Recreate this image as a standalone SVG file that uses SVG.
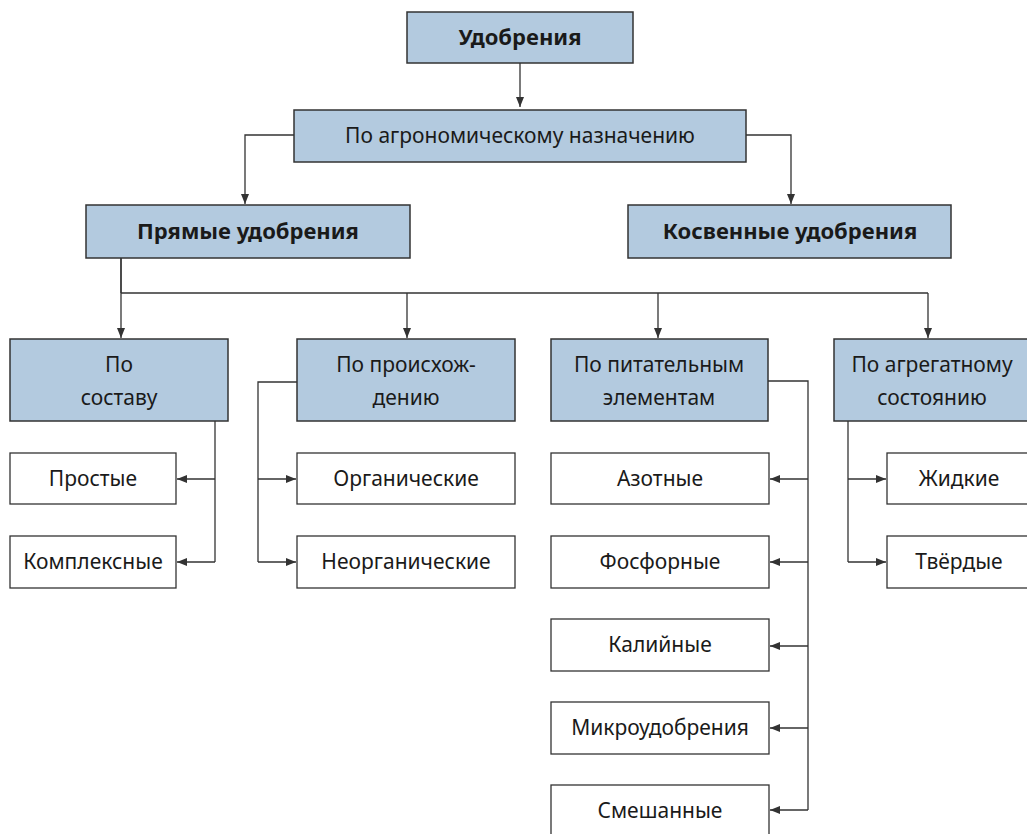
<svg xmlns="http://www.w3.org/2000/svg" width="1027" height="834" viewBox="0 0 1027 834">
<defs>
<marker id="ah" viewBox="0 0 10 8" refX="10" refY="4" markerWidth="10" markerHeight="8" markerUnits="userSpaceOnUse" orient="auto">
<path d="M0,0 L10,4 L0,8 z" fill="#333"/>
</marker>
</defs>
<style>
.h{fill:#b3cadf;stroke:#333;stroke-width:1.5}
.w{fill:#fff;stroke:#333;stroke-width:1.3}
.t{font-family:"Noto Sans","Liberation Sans",sans-serif;font-size:21px;fill:#1a1a1a;text-anchor:middle}
.b{font-weight:bold;font-size:22px}
.c{fill:none;stroke:#333;stroke-width:1.3}
.a{marker-end:url(#ah)}
</style>
<rect width="1027" height="834" fill="#fff"/>
<g id="connectors">
<path class="c a" d="M520,63 V107"/>
<path class="c a" d="M294,135 H245 V204"/>
<path class="c a" d="M746,135 H791 V204"/>
<path class="c" d="M121,258 V293 M121,293 H928"/>
<path class="c a" d="M121,258 V338"/>
<path class="c a" d="M407,293 V338"/>
<path class="c a" d="M658,293 V338"/>
<path class="c a" d="M928,293 V338"/>
<path class="c" d="M215,421 V562"/>
<path class="c a" d="M215,479 H177"/>
<path class="c a" d="M215,562 H177"/>
<path class="c" d="M297,382 H258 V562"/>
<path class="c a" d="M258,479 H296"/>
<path class="c a" d="M258,562 H296"/>
<path class="c" d="M768,381 H808 V810"/>
<path class="c a" d="M808,479 H770"/>
<path class="c a" d="M808,562 H770"/>
<path class="c a" d="M808,646 H770"/>
<path class="c a" d="M808,728 H770"/>
<path class="c a" d="M808,810 H770"/>
<path class="c" d="M848,421 V562"/>
<path class="c a" d="M848,479 H886"/>
<path class="c a" d="M848,562 H886"/>
</g>
<g id="n-udobreniya"><rect class="h" x="407" y="12" width="226" height="51"/><text class="t b" x="520" y="45">Удобрения</text></g>
<g id="n-agro"><rect class="h" x="294" y="110" width="452" height="52"/><text class="t" x="520" y="143">По агрономическому назначению</text></g>
<g id="n-pryamye"><rect class="h" x="86" y="205" width="324" height="53"/><text class="t b" x="248" y="239">Прямые удобрения</text></g>
<g id="n-kosvennye"><rect class="h" x="628" y="205" width="323" height="53"/><text class="t b" x="790" y="239">Косвенные удобрения</text></g>
<g id="n-sostav"><rect class="h" x="10" y="339" width="218" height="82"/><text class="t" x="119" y="372">По</text><text class="t" x="119" y="405">составу</text></g>
<g id="n-proish"><rect class="h" x="297" y="339" width="218" height="82"/><text class="t" x="406" y="372">По происхож-</text><text class="t" x="406" y="405">дению</text></g>
<g id="n-pitat"><rect class="h" x="551" y="339" width="217" height="82"/><text class="t" x="659" y="372">По питательным</text><text class="t" x="659" y="405">элементам</text></g>
<g id="n-agreg"><rect class="h" x="834" y="339" width="218" height="82"/><text class="t" x="932" y="372">По агрегатному</text><text class="t" x="932" y="405">состоянию</text></g>
<g id="n-prostye"><rect class="w" x="10" y="453" width="166" height="51"/><text class="t" x="93" y="486">Простые</text></g>
<g id="n-kompleks"><rect class="w" x="10" y="536" width="166" height="52"/><text class="t" x="93" y="569">Комплексные</text></g>
<g id="n-organ"><rect class="w" x="297" y="453" width="218" height="51"/><text class="t" x="406" y="486">Органические</text></g>
<g id="n-neorgan"><rect class="w" x="297" y="536" width="218" height="52"/><text class="t" x="406" y="569">Неорганические</text></g>
<g id="n-azot"><rect class="w" x="551" y="453" width="218" height="51"/><text class="t" x="660" y="486">Азотные</text></g>
<g id="n-fosfor"><rect class="w" x="551" y="536" width="218" height="52"/><text class="t" x="660" y="569">Фосфорные</text></g>
<g id="n-kaliy"><rect class="w" x="551" y="619" width="218" height="52"/><text class="t" x="660" y="652">Калийные</text></g>
<g id="n-mikro"><rect class="w" x="551" y="702" width="218" height="52"/><text class="t" x="660" y="735">Микроудобрения</text></g>
<g id="n-smesh"><rect class="w" x="551" y="785" width="218" height="52"/><text class="t" x="660" y="818">Смешанные</text></g>
<g id="n-zhidkie"><rect class="w" x="887" y="453" width="160" height="51"/><text class="t" x="959" y="486">Жидкие</text></g>
<g id="n-tverdye"><rect class="w" x="887" y="536" width="160" height="52"/><text class="t" x="959" y="569">Твёрдые</text></g>
</svg>
